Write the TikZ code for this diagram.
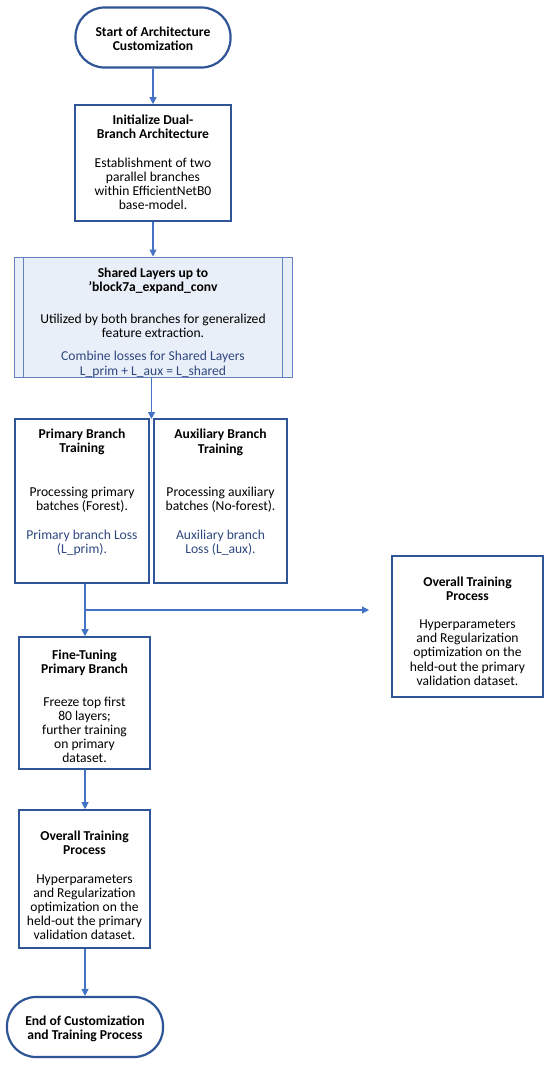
\documentclass[tikz,border=0pt]{standalone}
\usepackage{fontspec}
\setmainfont{Carlito}
\usetikzlibrary{arrows.meta}
\definecolor{bdr}{RGB}{47,85,151}
\definecolor{arrc}{RGB}{68,114,196}
\definecolor{ltxt}{RGB}{47,72,128}
\definecolor{shfill}{RGB}{233,239,248}
\definecolor{shbdr}{RGB}{100,130,190}
\tikzset{
  txt/.style={font=\fontsize{13.6}{14.2}\selectfont, align=center, text=black, inner sep=0pt},
  term/.style={draw=bdr, line width=2.2pt, rounded corners=29pt, inner sep=0pt},
  box/.style={draw=bdr, line width=1.6pt, inner sep=0pt},
  sbox/.style={draw=shbdr, fill=shfill, line width=1pt, inner sep=0pt},
  arr/.style={draw=arrc, line width=1.1pt, -{Triangle[length=7pt,width=7pt]}},
  ln/.style={draw=arrc, line width=1.1pt},
}
\newcommand{\bl}[1]{\textcolor{ltxt}{#1}}
\begin{document}
\begin{tikzpicture}[x=1pt,y=-1pt]
\useasboundingbox (0,0) rectangle (550,1065);
\fill[white] (0,0) rectangle (550,1065);

\node[term, minimum width=155pt, minimum height=60pt] (start) at (153,37.5) {};
\node[txt] (startT) at (153,39) {\textbf{Start of Architecture}\\\textbf{Customization}};

\node[box, minimum width=156pt, minimum height=116pt] (init) at (153,163) {};
\node[txt] (initT) at (153,162.5)
  {\textbf{Initialize Dual-}\\\textbf{Branch Architecture}\\[14pt]
   Establishment of two\\parallel branches\\within EfficientNetB0\\base-model.};

\node[sbox, minimum width=278pt, minimum height=120pt] (shared) at (153,317) {};
\draw[shbdr, line width=1pt] ([xshift=10pt]shared.north west) -- ([xshift=10pt]shared.south west);
\draw[shbdr, line width=1pt] ([xshift=-10pt]shared.north east) -- ([xshift=-10pt]shared.south east);
\node[txt] (sharedT) at (153,322.5)
  {\textbf{Shared Layers up to}\\\textbf{'block7a\_expand\_conv}\\[18pt]
   Utilized by both branches for generalized\\feature extraction.\\[9pt]
   \bl{Combine losses for Shared Layers}\\\bl{L\_prim + L\_aux = L\_shared}};

\node[box, minimum width=134pt, minimum height=164pt] (prim) at (82,501) {};
\node[txt] (primT) at (82,492.5)
  {\textbf{Primary Branch}\\\textbf{Training}\\[29pt]
   Processing primary\\batches (Forest).\\[15pt]
   \bl{Primary branch Loss}\\\bl{(L\_prim).}};

\node[box, minimum width=133pt, minimum height=164pt] (aux) at (220.5,501) {};
\node[txt] (auxT) at (220.5,492.5)
  {\textbf{Auxiliary Branch}\\\textbf{Training}\\[29pt]
   Processing auxiliary\\batches (No-forest).\\[15pt]
   \bl{Auxiliary branch}\\\bl{Loss (L\_aux).}};

\node[box, minimum width=131pt, minimum height=132pt] (fine) at (84.5,703) {};
\node[txt] (fineT) at (84.5,706.5)
  {\textbf{Fine-Tuning}\\\textbf{Primary Branch}\\[18pt]
   Freeze top first\\80 layers;\\further training\\on primary\\dataset.};

\node[box, minimum width=151pt, minimum height=141pt] (ovr) at (467.5,626.5) {};
\node[txt] (ovrT) at (467.5,631)
  {\textbf{Overall Training}\\\textbf{Process}\\[14pt]
   Hyperparameters\\and Regularization\\optimization on the\\held-out the primary\\validation dataset.};

\node[box, minimum width=131pt, minimum height=138pt] (ovb) at (84.5,879) {};
\node[txt] (ovbT) at (84.5,885.5)
  {\textbf{Overall Training}\\\textbf{Process}\\[14pt]
   Hyperparameters\\and Regularization\\optimization on the\\held-out the primary\\validation dataset.};

\node[term, minimum width=156pt, minimum height=60pt] (end) at (85,1027) {};
\node[txt] (endT) at (85,1028.5) {\textbf{End of Customization}\\\textbf{and Training Process}};

\coordinate (split) at (151.5,419);
\coordinate (fork) at (85,610);
\coordinate (ovrin) at (369,610);

\draw[arr] (start.south) -- (init.north);
\draw[arr] (init.south) -- (shared.north);
\draw[arr] (shared.south -| split) -- (split);
\draw[ln] (prim.south -| fork) -- (fork);
\draw[arr] (fork) -- (fork |- fine.north);
\draw[arr] (fork) -- (ovrin);
\draw[arr] (fine.south -| fork) -- (fork |- ovb.north);
\draw[arr] (ovb.south -| fork) -- (fork |- end.north);
\end{tikzpicture}
\end{document}
